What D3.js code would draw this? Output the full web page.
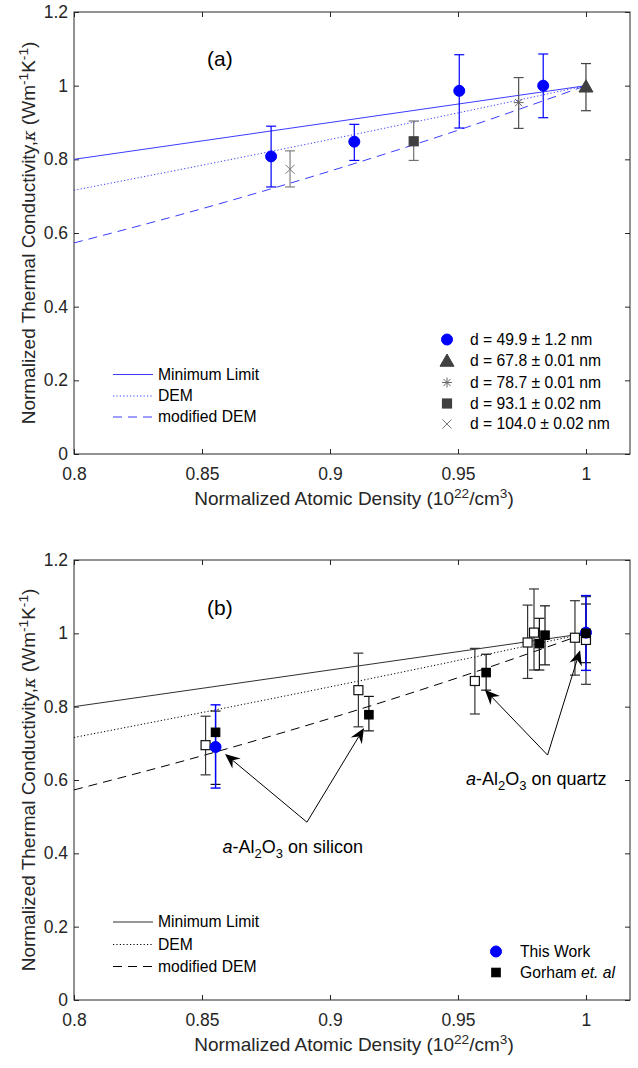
<!DOCTYPE html>
<html>
<head>
<meta charset="utf-8">
<script src="https://cdn.jsdelivr.net/npm/d3@7"></script>
<style>
  body { margin: 0; background: #fff; }
  svg { display: block; }
  text { font-family: "Liberation Sans", Arial, Helvetica, sans-serif; }
</style>
</head>
<body>
<svg id="fig" width="638" height="1068"></svg>
<script>
// ---------- axis ticks ----------
const xTicks = [0.8, 0.85, 0.9, 0.95, 1.0];
const xTickLabels = ["0.8", "0.85", "0.9", "0.95", "1"];
const yTicks = [0, 0.2, 0.4, 0.6, 0.8, 1.0, 1.2];
const yTickLabels = ["0", "0.2", "0.4", "0.6", "0.8", "1", "1.2"];

// ---------- model curves (normalized density vs normalized conductivity) ----------
const modelDensity = [0.8, 0.85, 0.9, 0.95, 1.0];
const minLimitKappa = [0.8, 0.85, 0.9, 0.95, 1.0];
const demKappa = [0.716, 0.784, 0.854, 0.926, 1.0];
const modDemKappa = [0.573, 0.666, 0.768, 0.879, 1.0];
const modelNames = ["Minimum Limit", "DEM", "modified DEM"];

// ---------- panel (a): films of different thickness ----------
const filmLabels = ["d = 49.9 \u00B1 1.2 nm", "d = 67.8 \u00B1 0.01 nm", "d = 78.7 \u00B1 0.01 nm",
                    "d = 93.1 \u00B1 0.02 nm", "d = 104.0 \u00B1 0.02 nm"];
const d499Density = [0.877, 0.9095, 0.9505, 0.9833];
const d499Kappa   = [0.808, 0.848, 0.986, 1.000];
const d499Lower   = [0.725, 0.797, 0.885, 0.913];
const d499Upper   = [0.890, 0.895, 1.084, 1.086];
const d678Density = [1.0];
const d678Kappa   = [0.997];
const d678Lower   = [0.932];
const d678Upper   = [1.060];
const d787Density = [0.9737];
const d787Kappa   = [0.954];
const d787Lower   = [0.884];
const d787Upper   = [1.022];
const d931Density = [0.9327];
const d931Kappa   = [0.849];
const d931Lower   = [0.797];
const d931Upper   = [0.904];
const d1040Density = [0.8844];
const d1040Kappa   = [0.773];
const d1040Lower   = [0.725];
const d1040Upper   = [0.823];

// ---------- panel (b): comparison with literature ----------
const thisWorkDensity = [0.8553, 1.0];
const thisWorkKappa   = [0.690, 1.002];
const thisWorkLower   = [0.578, 0.899];
const thisWorkUpper   = [0.805, 1.103];

const gorhamDensity = [0.8553, 0.9152, 0.9610, 0.9818, 0.9840, 1.0];
const gorhamKappa   = [0.730, 0.778, 0.893, 0.972, 0.995, 1.000];
const gorhamLower   = [0.588, 0.734, 0.845, 0.900, 0.914, 0.920];
const gorhamUpper   = [0.788, 0.828, 0.943, 1.041, 1.075, 1.080];

const gorhamOpenDensity = [0.8514, 0.9111, 0.9566, 0.9772, 0.9797, 0.9957, 1.0];
const gorhamOpenKappa   = [0.695, 0.845, 0.870, 0.975, 1.002, 0.988, 0.982];
const gorhamOpenLower   = [0.614, 0.745, 0.780, 0.877, 0.900, 0.886, 0.861];
const gorhamOpenUpper   = [0.774, 0.946, 0.959, 1.077, 1.121, 1.089, 1.100];

const compLegend = ["This Work", "Gorham", "et. al"];

// substrate annotations: text anchor and arrows (from, to) in data units
const substrateNames = ["silicon", "quartz"];
const substrateTextPos = [[0.8580, 0.401], [0.9531, 0.586]];
const substrateArrowFrom = [[0.8910, 0.485], [0.9850, 0.668]];
const substrateArrowTo = [
  [[0.8590, 0.671], [0.9133, 0.742]],
  [[0.9605, 0.846], [0.9977, 0.954]]
];

// ---------- drawing ----------
const svg = d3.select("#fig");
const FONT_TICK = 17.5, FONT_LABEL = 19, FONT_LEG = 15.7, AXIS_COL = "#262626";
const BLUE = "#0000ff";

function zip(xs, ys, lo, hi) {
  return xs.map((x, i) => ({ x: x, y: ys[i], lo: lo ? lo[i] : null, hi: hi ? hi[i] : null }));
}

function makePanel(top, bottom) {
  const x = d3.scaleLinear().domain([0.8, 1.0172]).range([74, 630]);
  const y = d3.scaleLinear().domain([0, 1.2]).range([bottom, top]);
  const g = svg.append("g");

  const styleAxis = sel => {
    sel.select(".domain").remove();
    sel.selectAll(".tick line").attr("stroke", AXIS_COL);
    sel.selectAll(".tick text").attr("fill", AXIS_COL).attr("font-size", FONT_TICK)
       .attr("font-family", "'Liberation Sans', Arial, sans-serif");
  };
  g.append("g").attr("transform", `translate(0,${bottom})`)
    .call(d3.axisBottom(x).tickValues(xTicks).tickFormat((d, i) => xTickLabels[i])
      .tickSizeInner(-5).tickSizeOuter(0).tickPadding(14)).call(styleAxis);
  g.append("g").attr("transform", `translate(0,${top})`)
    .call(d3.axisTop(x).tickValues(xTicks).tickFormat("").tickSizeInner(-5).tickSizeOuter(0)).call(styleAxis);
  g.append("g").attr("transform", `translate(74,0)`)
    .call(d3.axisLeft(y).tickValues(yTicks).tickFormat((d, i) => yTickLabels[i])
      .tickSizeInner(-5).tickSizeOuter(0).tickPadding(6)).call(styleAxis);
  g.append("g").attr("transform", `translate(630,0)`)
    .call(d3.axisRight(y).tickValues(yTicks).tickFormat("").tickSizeInner(-5).tickSizeOuter(0)).call(styleAxis);

  g.append("rect").attr("x", 74).attr("y", top).attr("width", 556).attr("height", bottom - top)
    .attr("fill", "none").attr("stroke", AXIS_COL).attr("stroke-width", 1);

  // x label
  const xl = g.append("text").attr("x", 354).attr("y", bottom + 51).attr("text-anchor", "middle")
    .attr("font-size", FONT_LABEL).attr("fill", AXIS_COL);
  xl.append("tspan").text("Normalized Atomic Density (10");
  xl.append("tspan").attr("dy", -7).attr("font-size", FONT_LABEL * 0.72).text("22");
  xl.append("tspan").attr("dy", 7).text("/cm");
  xl.append("tspan").attr("dy", -7).attr("font-size", FONT_LABEL * 0.72).text("3");
  xl.append("tspan").attr("dy", 7).text(")");

  // y label
  const cy = (top + bottom) / 2;
  const yl = g.append("text").attr("transform", `translate(35,${cy}) rotate(-90)`)
    .attr("text-anchor", "middle").attr("font-size", FONT_LABEL).attr("fill", AXIS_COL);
  yl.append("tspan").text("Normalized Thermal Conductivity,");
  yl.append("tspan").attr("font-family", "'DejaVu Serif', serif").attr("font-style", "italic")
    .attr("font-size", FONT_LABEL * 0.85).text("\u03BA");
  yl.append("tspan").text(" (Wm");
  yl.append("tspan").attr("dy", -7).attr("font-size", FONT_LABEL * 0.72).text("-1");
  yl.append("tspan").attr("dy", 7).text("K");
  yl.append("tspan").attr("dy", -7).attr("font-size", FONT_LABEL * 0.72).text("-1");
  yl.append("tspan").attr("dy", 7).text(")");

  return { g, x, y, top, bottom };
}

function drawModels(p, color, solidCol) {
  const line = d3.line().x(d => p.x(d.x)).y(d => p.y(d.y)).curve(d3.curveMonotoneX);
  const specs = [
    { ys: minLimitKappa, dash: null, col: solidCol },
    { ys: demKappa, dash: "1.2,2.2", col: color },
    { ys: modDemKappa, dash: "9,6", col: color }
  ];
  specs.forEach(s => {
    p.g.append("path").datum(zip(modelDensity, s.ys)).attr("d", line)
      .attr("fill", "none").attr("stroke", s.col).attr("stroke-width", 1)
      .attr("stroke-dasharray", s.dash);
  });
  return specs;
}

function drawErrorBars(p, data, color, width) {
  const cap = 5;
  const eg = p.g.append("g").attr("stroke", color).attr("stroke-width", width || 1.2).attr("fill", "none");
  data.forEach(d => {
    const cx = p.x(d.x);
    eg.append("line").attr("x1", cx).attr("x2", cx).attr("y1", p.y(d.lo)).attr("y2", p.y(d.hi));
    eg.append("line").attr("x1", cx - cap).attr("x2", cx + cap).attr("y1", p.y(d.lo)).attr("y2", p.y(d.lo));
    eg.append("line").attr("x1", cx - cap).attr("x2", cx + cap).attr("y1", p.y(d.hi)).attr("y2", p.y(d.hi));
  });
}

// marker painters
function markCircle(g, cx, cy, col, r) {
  g.append("circle").attr("cx", cx).attr("cy", cy).attr("r", r || 5.5).attr("fill", col).attr("stroke", col);
}
function markTriangle(g, cx, cy, col) {
  const s = 7;
  g.append("path").attr("d", `M${cx},${cy - s}L${cx + s},${cy + s * 0.75}L${cx - s},${cy + s * 0.75}Z`)
    .attr("fill", col).attr("stroke", col);
}
function markSquare(g, cx, cy, col, s, fill) {
  s = s || 4.5;
  g.append("rect").attr("x", cx - s).attr("y", cy - s).attr("width", 2 * s).attr("height", 2 * s)
    .attr("fill", fill === undefined ? col : fill).attr("stroke", col).attr("stroke-width", 1.2);
}
function markStar(g, cx, cy, col) {
  const s = 5, t = s * 0.72;
  g.append("path").attr("d",
    `M${cx - s},${cy}L${cx + s},${cy}M${cx},${cy - s}L${cx},${cy + s}` +
    `M${cx - t},${cy - t}L${cx + t},${cy + t}M${cx - t},${cy + t}L${cx + t},${cy - t}`)
    .attr("stroke", col).attr("stroke-width", 1).attr("fill", "none");
}
function markCross(g, cx, cy, col) {
  const s = 4.5;
  g.append("path").attr("d", `M${cx - s},${cy - s}L${cx + s},${cy + s}M${cx - s},${cy + s}L${cx + s},${cy - s}`)
    .attr("stroke", col).attr("stroke-width", 1).attr("fill", "none");
}

function drawLineLegend(g, x0, ys, specs) {
  specs.forEach((s, i) => {
    g.append("line").attr("x1", x0).attr("x2", x0 + 40).attr("y1", ys[i]).attr("y2", ys[i])
      .attr("stroke", s.col).attr("stroke-width", 1).attr("stroke-dasharray", s.dash);
    g.append("text").attr("x", x0 + 45).attr("y", ys[i]).attr("dy", "0.35em")
      .attr("font-size", FONT_LEG).attr("fill", "#000").text(modelNames[i]);
  });
}

// ================= panel (a) =================
const pa = makePanel(12, 454);
const specsA = drawModels(pa, "#3c3cff", "#3c3cff");
pa.g.append("text").attr("x", 207).attr("y", 66).attr("font-size", 21).attr("fill", "#000").text("(a)");

const seriesA = [
  { data: zip(d499Density, d499Kappa, d499Lower, d499Upper), bar: BLUE, col: BLUE, mark: (g, x, y) => markCircle(g, x, y, BLUE) },
  { data: zip(d678Density, d678Kappa, d678Lower, d678Upper), bar: "#404040", col: "#404040", mark: (g, x, y) => markTriangle(g, x, y, "#404040") },
  { data: zip(d787Density, d787Kappa, d787Lower, d787Upper), bar: "#505050", col: "#666", mark: (g, x, y) => markStar(g, x, y, "#666") },
  { data: zip(d931Density, d931Kappa, d931Lower, d931Upper), bar: "#707070", col: "#404040", mark: (g, x, y) => markSquare(g, x, y, "#404040", 4.5) },
  { data: zip(d1040Density, d1040Kappa, d1040Lower, d1040Upper), bar: "#808080", col: "#777", mark: (g, x, y) => markCross(g, x, y, "#777") }
];
seriesA.forEach(s => drawErrorBars(pa, s.data, s.bar, 1.2));
seriesA.forEach(s => {
  const mg = pa.g.append("g");
  s.data.forEach(d => s.mark(mg, pa.x(d.x), pa.y(d.y)));
});

// legends (a)
drawLineLegend(pa.g, 113, [374.5, 396, 417], specsA);
const legAy = [339.5, 361, 382.5, 403.5, 424];
seriesA.forEach((s, i) => {
  const lg = pa.g.append("g");
  s.mark(lg, 447, legAy[i]);
  pa.g.append("text").attr("x", 470).attr("y", legAy[i]).attr("dy", "0.35em")
    .attr("font-size", FONT_LEG).attr("fill", "#000").text(filmLabels[i]);
});

// ================= panel (b) =================
const pb = makePanel(560, 1000);
const specsB = drawModels(pb, "#000", "#303030");
pb.g.append("text").attr("x", 207).attr("y", 615).attr("font-size", 21).attr("fill", "#000").text("(b)");

const openData = zip(gorhamOpenDensity, gorhamOpenKappa, gorhamOpenLower, gorhamOpenUpper);
const workData = zip(thisWorkDensity, thisWorkKappa, thisWorkLower, thisWorkUpper);
const gorData = zip(gorhamDensity, gorhamKappa, gorhamLower, gorhamUpper);
drawErrorBars(pb, openData, "#333", 1.2);
drawErrorBars(pb, gorData, "#111", 1.2);
drawErrorBars(pb, workData, BLUE, 1.4);
const mb = pb.g.append("g");
openData.forEach(d => markSquare(mb, pb.x(d.x), pb.y(d.y), "#111", 4.5, "#fff"));
workData.forEach(d => markCircle(mb, pb.x(d.x), pb.y(d.y), BLUE, 5.5));
gorData.forEach(d => markSquare(mb, pb.x(d.x), pb.y(d.y), "#000", 4.2));

// substrate annotations with arrows
function arrow(g, x1, y1, x2, y2) {
  const dx = x2 - x1, dy = y2 - y1, len = Math.hypot(dx, dy);
  const ux = dx / len, uy = dy / len, nx = -uy, ny = ux;
  const L = 15, W = 6.5, notch = 5;
  const bx = x2 - L * ux, by = y2 - L * uy;
  g.append("line").attr("x1", x1).attr("y1", y1).attr("x2", x2 - (L - notch) * ux).attr("y2", y2 - (L - notch) * uy)
    .attr("stroke", "#000").attr("stroke-width", 1);
  g.append("path").attr("d",
    `M${x2},${y2}L${bx + W * nx},${by + W * ny}L${x2 - (L - notch) * ux},${y2 - (L - notch) * uy}L${bx - W * nx},${by - W * ny}Z`)
    .attr("fill", "#000");
}
substrateNames.forEach((name, i) => {
  const [fx, fy] = substrateArrowFrom[i];
  substrateArrowTo[i].forEach(([tx, ty]) => arrow(pb.g, pb.x(fx), pb.y(fy), pb.x(tx), pb.y(ty)));
  const [lx, ly] = substrateTextPos[i];
  const t = pb.g.append("text").attr("x", pb.x(lx)).attr("y", pb.y(ly)).attr("font-size", 18).attr("fill", "#000");
  t.append("tspan").attr("font-style", "italic").text("a");
  t.append("tspan").text("-Al");
  t.append("tspan").attr("dy", 5).attr("font-size", 13).text("2");
  t.append("tspan").attr("dy", -5).text("O");
  t.append("tspan").attr("dy", 5).attr("font-size", 13).text("3");
  t.append("tspan").attr("dy", -5).text(" on " + name);
});

// legends (b)
drawLineLegend(pb.g, 113, [922, 944.5, 966.5], specsB);
markCircle(pb.g, 496, 951.5, BLUE, 5.5);
pb.g.append("text").attr("x", 520).attr("y", 951.5).attr("dy", "0.35em").attr("font-size", FONT_LEG)
  .attr("fill", "#000").text(compLegend[0]);
markSquare(pb.g, 496, 972.5, "#000", 4.2);
const gl = pb.g.append("text").attr("x", 520).attr("y", 972.5).attr("dy", "0.35em").attr("font-size", FONT_LEG)
  .attr("fill", "#000");
gl.append("tspan").text(compLegend[1] + " ");
gl.append("tspan").attr("font-style", "italic").text(compLegend[2]);
</script>
</body>
</html>
